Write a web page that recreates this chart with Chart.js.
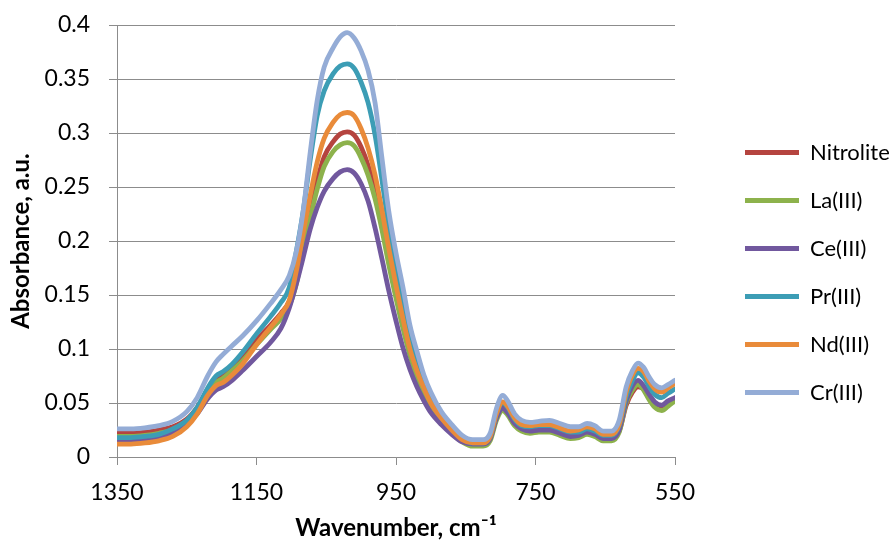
<!DOCTYPE html>
<html>
<head>
<meta charset="utf-8">
<script src="https://cdn.jsdelivr.net/npm/chart.js@4.4.1/dist/chart.umd.min.js"></script>
<style>
  html, body { margin: 0; padding: 0; background: #ffffff; }
  #wrap { width: 895px; height: 545px; position: relative; }
</style>
</head>
<body>
<div id="wrap"><canvas id="c" width="895" height="545"></canvas></div>
<script>
// Wavenumbers (cm-1) at which the curves were read
const wavenumbers = [1350,1330,1310,1290,1270,1250,1235,1220,1208,1198,1185,1170,1150,1130,1115,1103,1093,1083,1073,1063,1053,1040,1030,1020,1010,1000,990,980,970,960,950,940,930,920,910,900,885,870,855,840,825,815,806,797,790,780,770,758,745,730,715,700,688,676,665,653,641,630,620,611,603,595,587,579,569,560,550];

const seriesNames = ["Nitrolite", "La(III)", "Ce(III)", "Pr(III)", "Nd(III)", "Cr(III)"];

const nitrolite = [.022,.022,.023,.025,.028,.035,.046,.062,.071,.075,
  .082,.092,.108,.122,.133,.144,.165,.198,.228,.256,
  .278,.292,.299,.301,.298,.287,.270,.247,.217,.183,
  .152,.123,.097,.077,.062,.049,.035,.024,.016,.012,
  .012,.017,.036,.046,.042,.032,.027,.025,.026,.026,
  .023,.020,.021,.024,.022,.018,.018,.024,.048,.060,
  .065,.063,.056,.050,.047,.050,.054];

const laIII = [.019,.019,.020,.022,.025,.032,.043,.059,.069,.073,
  .080,.089,.104,.118,.128,.140,.160,.192,.221,.248,
  .269,.283,.289,.291,.288,.277,.261,.239,.210,.177,
  .147,.119,.094,.074,.059,.046,.033,.022,.014,.010,
  .010,.015,.034,.043,.039,.029,.024,.022,.023,.023,
  .020,.017,.018,.021,.019,.015,.015,.023,.050,.062,
  .067,.062,.053,.046,.043,.047,.052];

const ceIII = [.015,.015,.016,.018,.022,.030,.040,.054,.062,.065,
  .071,.080,.093,.106,.119,.138,.160,.185,.211,.231,
  .246,.258,.264,.266,.263,.253,.237,.212,.183,.153,
  .126,.101,.081,.065,.052,.041,.030,.021,.014,.012,
  .012,.017,.036,.045,.041,.031,.026,.024,.025,.025,
  .022,.019,.020,.023,.021,.017,.017,.025,.052,.066,
  .071,.066,.058,.051,.048,.052,.055];

const prIII = [.018,.018,.019,.021,.026,.034,.046,.064,.075,.079,
  .086,.097,.114,.130,.143,.157,.190,.228,.275,.316,
  .339,.355,.362,.364,.360,.347,.328,.298,.256,.212,
  .177,.145,.113,.090,.070,.055,.038,.026,.017,.013,
  .013,.019,.040,.050,.046,.035,.029,.028,.029,.029,
  .026,.023,.023,.026,.024,.020,.020,.029,.056,.071,
  .078,.074,.065,.058,.055,.059,.063];

const ndIII = [.012,.012,.013,.015,.019,.028,.040,.057,.066,.069,
  .076,.086,.104,.120,.132,.145,.172,.208,.242,.273,
  .295,.310,.317,.319,.316,.304,.286,.261,.228,.192,
  .159,.128,.100,.080,.064,.050,.036,.025,.016,.013,
  .013,.019,.040,.051,.047,.036,.030,.029,.030,.030,
  .027,.024,.025,.028,.026,.021,.021,.030,.060,.076,
  .082,.079,.070,.063,.060,.064,.068];

const crIII = [.026,.026,.027,.029,.033,.042,.055,.075,.088,.095,
  .103,.112,.126,.142,.155,.168,.190,.228,.282,.330,
  .361,.379,.389,.393,.388,.376,.358,.328,.276,.226,
  .189,.157,.122,.098,.076,.060,.042,.030,.020,.016,
  .016,.022,.045,.057,.052,.040,.034,.032,.033,.034,
  .031,.028,.028,.031,.029,.024,.024,.034,.065,.080,
  .087,.083,.074,.067,.064,.067,.071];

const xTicks = [1350, 1150, 950, 750, 550];
const xTickLabels = ["1350", "1150", "950", "750", "550"];
const yTicks = [0, 0.05, 0.1, 0.15, 0.2, 0.25, 0.3, 0.35, 0.4];
const yTickLabels = ["0", "0.05", "0.1", "0.15", "0.2", "0.25", "0.3", "0.35", "0.4"];

const seriesValues = [nitrolite, laIII, ceIII, prIII, ndIII, crIII];
const seriesColors = ["#B5443F", "#8DB24C", "#71589E", "#3C9DB5", "#E98B3A", "#94ACD6"];

Chart.defaults.font.family = "Lato, 'Open Sans', sans-serif";
Chart.defaults.color = "#000000";

const datasets = seriesNames.map((name, i) => ({
  label: name,
  data: wavenumbers.map((w, j) => ({ x: w, y: seriesValues[i][j] })),
  borderColor: seriesColors[i],
  backgroundColor: seriesColors[i],
  borderWidth: 4.8,
  pointRadius: 0,
  pointHoverRadius: 0,
  fill: false,
  cubicInterpolationMode: 'monotone',
  borderCapStyle: 'round',
  borderJoinStyle: 'round',
  order: seriesNames.length - i,
  pointStyle: 'line'
}));

const gridGray = "#8C8C8C";
const labelFor = (vals, labels, v) => {
  const k = vals.findIndex(t => Math.abs(t - v) < 1e-9);
  return k >= 0 ? labels[k] : '';
};

new Chart(document.getElementById('c'), {
  type: 'line',
  data: { datasets },
  options: {
    responsive: false,
    animation: false,
    events: [],
    layout: { padding: { top: 0, left: 0, right: 0, bottom: 0 } },
    plugins: {
      tooltip: { enabled: false },
      legend: {
        position: 'right',
        maxWidth: 176,
        labels: {
          usePointStyle: true,
          pointStyle: 'line',
          pointStyleWidth: 54,
          boxWidth: 54,
          padding: 26,
          color: '#000000',
          font: { size: 22 },
          sort: (a, b) => a.datasetIndex - b.datasetIndex
        }
      }
    },
    scales: {
      x: {
        type: 'linear',
        position: 'bottom',
        reverse: true,
        min: 550,
        max: 1350,
        afterBuildTicks: (s) => { s.ticks = xTicks.map(v => ({ value: v })); },
        afterFit: (s) => { s.height = 88; },
        ticks: {
          font: { size: 23 }, color: '#000000', padding: 14, maxRotation: 0, autoSkip: false,
          callback: (v) => labelFor(xTicks, xTickLabels, v)
        },
        grid: { drawOnChartArea: false, drawTicks: true, tickLength: 8, color: gridGray, lineWidth: 1 },
        border: { display: true, color: gridGray, width: 1 },
        title: {
          display: true,
          text: 'Wavenumber, cm\u207B\u00B9',
          font: { size: 24, weight: 'bold' },
          color: '#000000',
          padding: { top: 4, bottom: 2 }
        }
      },
      y: {
        type: 'linear',
        position: 'left',
        min: 0,
        max: 0.4,
        afterBuildTicks: (s) => { s.ticks = yTicks.map(v => ({ value: v })); },
        afterFit: (s) => { s.width = 117; s.paddingTop = 0; s.paddingBottom = 0; },
        ticks: {
          font: { size: 23 },
          color: '#000000',
          padding: 19,
          callback: (v) => labelFor(yTicks, yTickLabels, v)
        },
        grid: { drawOnChartArea: true, drawTicks: true, tickLength: 8, color: gridGray, lineWidth: 1 },
        border: { display: true, color: gridGray, width: 1 },
        title: {
          display: true,
          text: 'Absorbance, a.u.',
          font: { size: 24, weight: 'bold' },
          color: '#000000',
          padding: { top: 7, bottom: 0 }
        }
      },
      xTopSpacer: {
        type: 'linear',
        axis: 'x',
        position: 'top',
        display: true,
        ticks: { display: false },
        grid: { display: false },
        border: { display: false },
        afterFit: (s) => { s.height = 25; }
      },
      yRightSpacer: {
        type: 'linear',
        axis: 'y',
        position: 'right',
        display: true,
        ticks: { display: false },
        grid: { display: false },
        border: { display: false },
        afterFit: (s) => { s.width = 44; }
      }
    }
  }
});
</script>
</body>
</html>
